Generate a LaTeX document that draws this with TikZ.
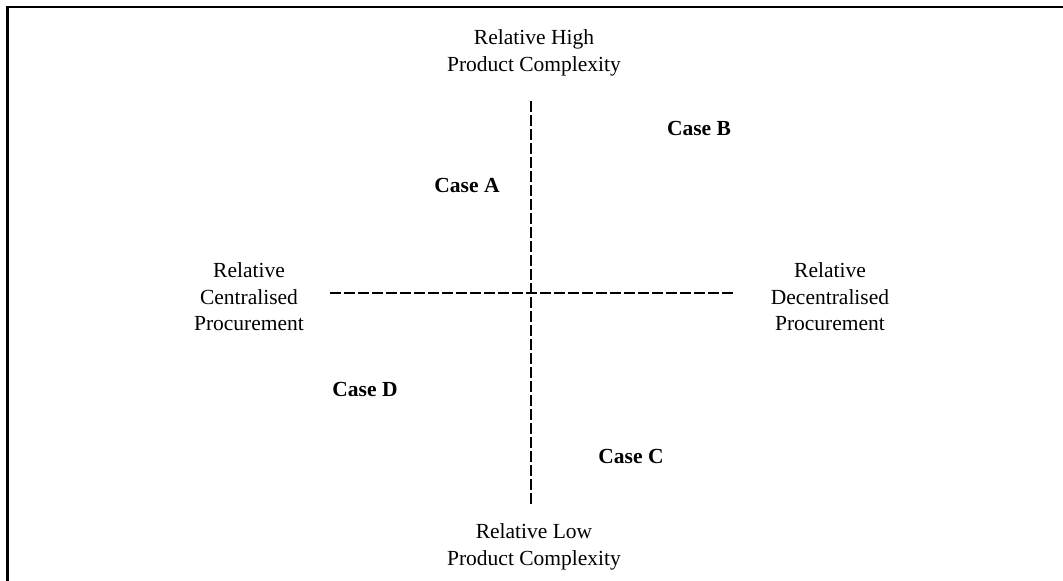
\documentclass[tikz,border=0pt]{standalone}
\usepackage{fontspec}
\setmainfont{Liberation Serif}
\begin{document}
\begin{tikzpicture}[x=1pt,y=-1pt,
  axis/.style={line width=2.2pt, dash pattern=on 11pt off 3pt},
  frameline/.style={line width=2.5pt},
  pole/.style={align=center, font=\fontsize{21.5}{26.5}\selectfont, inner sep=0pt},
  quadcase/.style={font=\fontsize{21.5}{24}\selectfont\bfseries, inner sep=0pt}]
  % page extent
  \useasboundingbox (0,0) rectangle (1063,581);
  % open frame: top and left edges
  \coordinate (ftl) at (7.5,7);
  \coordinate (ftr) at (1063,7);
  \coordinate (fbl) at (7.5,581);
  \draw[frameline] (ftr) -- (ftl) -- (fbl);
  % axes
  \coordinate (vtop) at (531,101);
  \coordinate (vbot) at (531,506);
  \coordinate (hleft) at (330,293);
  \coordinate (hright) at (735,293);
  \draw[axis] (vtop) -- (vbot);
  \draw[axis] (hleft) -- (hright);
  % pole labels
  \node[pole] (high) at (534,53) {Relative High\\Product Complexity};
  \node[pole] (low) at (534,547) {Relative Low\\Product Complexity};
  \node[pole] (central) at (249,297) {Relative\\Centralised\\Procurement};
  \node[pole] (decentral) at (830,297) {Relative\\Decentralised\\Procurement};
  % quadrant cases
  \node[quadcase] (caseA) at (467,185) {Case A};
  \node[quadcase] (caseB) at (699,128) {Case B};
  \node[quadcase] (caseC) at (631,456) {Case C};
  \node[quadcase] (caseD) at (365,389) {Case D};
\end{tikzpicture}
\end{document}
